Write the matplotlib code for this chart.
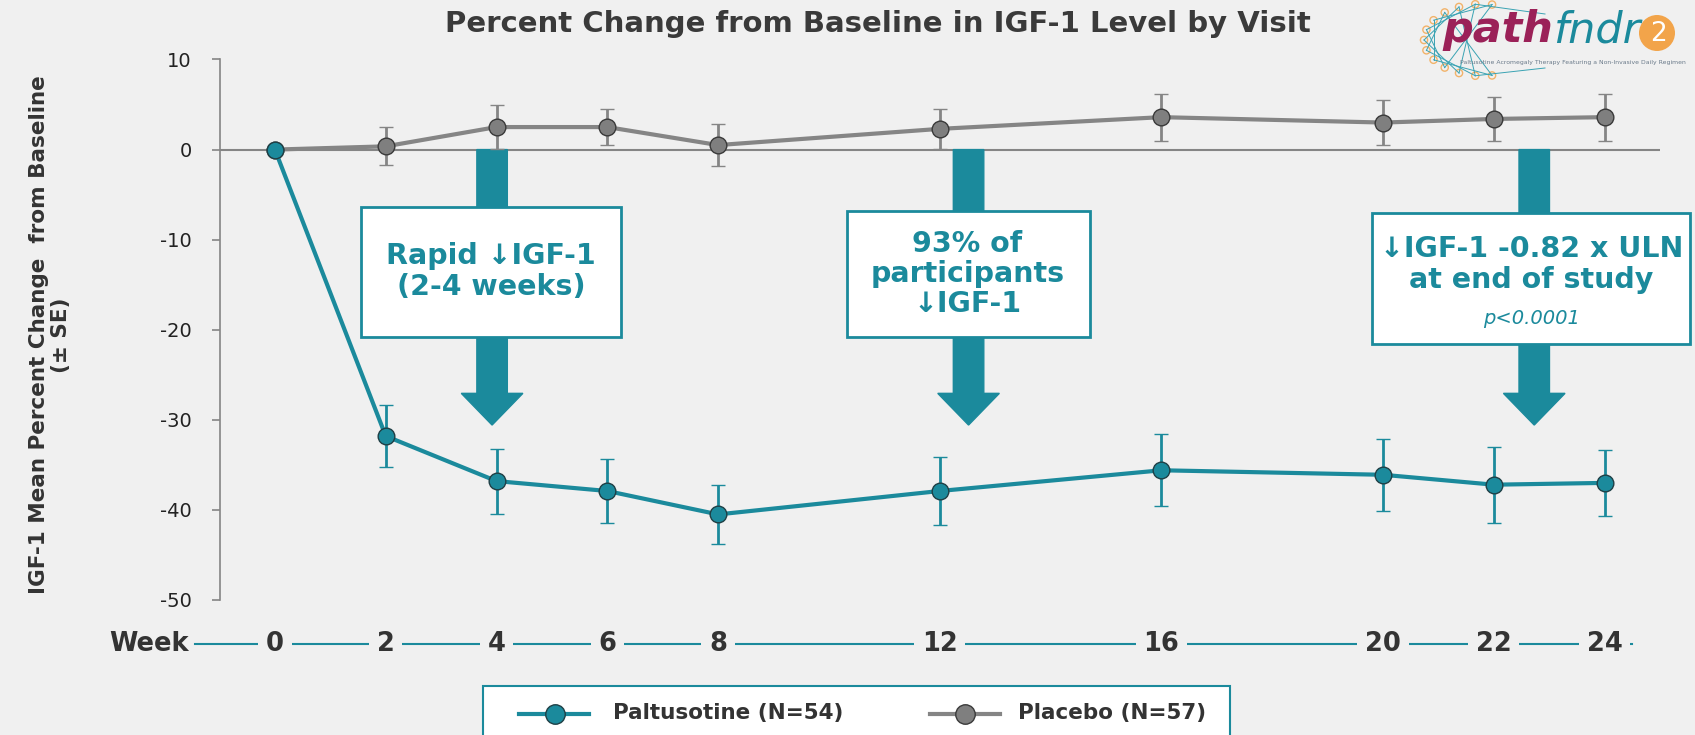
import numpy as np
import matplotlib
matplotlib.use("Agg")
import matplotlib.pyplot as plt
from matplotlib.patches import Rectangle, Polygon, Circle

# data
weeks = [0, 2, 4, 6, 8, 12, 16, 20, 22, 24]
week_labels = ["0", "2", "4", "6", "8", "12", "16", "20", "22", "24"]
palt_mean = [0, -31.8, -36.8, -37.9, -40.5, -37.9, -35.6, -36.1, -37.2, -37.0]
palt_se = [0, 3.4, 3.6, 3.5, 3.3, 3.8, 4.0, 4.0, 4.2, 3.7]
plac_mean = [0, 0.36, 2.5, 2.5, 0.5, 2.3, 3.6, 3.0, 3.4, 3.6]
plac_se = [0, 2.1, 2.4, 2.0, 2.3, 2.2, 2.6, 2.5, 2.4, 2.6]
yticks = [10, 0, -10, -20, -30, -40, -50]

TEAL = "#1b8a9c"
GRAY = "#858585"
BG = "#f0f0f0"
DARK = "#333333"

W, H = 1695, 735
fig = plt.figure(figsize=(W / 100, H / 100), dpi=100, facecolor=BG)

def fx(px):
    return px / W

def fy(py):
    return 1 - py / H

# main axes: left spine at 219.5px, y=10 at 59.5px, y=-50 at 600px
ax = fig.add_axes([fx(219.5), fy(600), fx(1660) - fx(219.5), fy(59.5) - fy(600)])
ax.set_facecolor(BG)
ax.set_xlim(-1, 25)
ax.set_ylim(-50, 10)
for s in ["top", "right", "bottom"]:
    ax.spines[s].set_visible(False)
ax.spines["left"].set_color(GRAY)
ax.spines["left"].set_linewidth(1.2)
ax.set_xticks([])
ax.set_yticks(yticks)
ax.set_yticklabels([str(t) for t in yticks], fontsize=14, color="#222222",
                   fontweight="medium")
ax.tick_params(axis="y", direction="out", length=6, color=GRAY, width=1.2, pad=14)

ax.axhline(0, color=GRAY, lw=1.5, zorder=1)

# callout arrows (behind the boxes)
arrow_x = [3.92, 12.52, 22.73]
for xc in arrow_x:
    sw, hw = 0.275, 0.556
    pts = [(xc - sw, 0), (xc + sw, 0), (xc + sw, -27.06), (xc + hw, -27.06),
           (xc, -30.58), (xc - hw, -27.06), (xc - sw, -27.06)]
    ax.add_patch(Polygon(pts, closed=True, color=TEAL, zorder=2, clip_on=False))

# callout boxes
boxes = [(1.554, -20.77, 6.25 - 1.554, 14.43),
         (10.32, -20.8, 14.71 - 10.32, 14.01),
         (19.81, -21.58, 25.54 - 19.81, 14.57)]
for bx, by, bw, bh in boxes:
    ax.add_patch(Rectangle((bx, by), bw, bh, facecolor="white", edgecolor=TEAL,
                           lw=2, zorder=3, clip_on=False))

fam = ["DejaVu Sans"]
ax.text(3.9, -13.53, "Rapid ↓IGF-1\n(2-4 weeks)", ha="center", va="center",
        color=TEAL, fontsize=20.5, fontweight="bold", family=fam, zorder=4,
        linespacing=1.12)
ax.text(12.5, -13.81, "93% of\nparticipants\n↓IGF-1", ha="center", va="center",
        color=TEAL, fontsize=20.5, fontweight="bold", family=fam, zorder=4,
        linespacing=1.1)
ax.text(22.68, -12.75, "↓IGF-1 -0.82 x ULN\nat end of study", ha="center", va="center",
        color=TEAL, fontsize=20.5, fontweight="bold", family=fam, zorder=4,
        linespacing=1.12, clip_on=False)
ax.text(22.68, -18.73, "p<0.0001", ha="center", va="center", color=TEAL,
        fontsize=14, fontstyle="italic", family=fam, zorder=4, clip_on=False)

# series
ax.errorbar(weeks, plac_mean, yerr=plac_se, color=GRAY, lw=3, elinewidth=2,
            capsize=5, capthick=2, marker="o", markersize=12,
            markerfacecolor="#7f7f7f", markeredgecolor="#3a3a3a",
            markeredgewidth=1, zorder=5, clip_on=False)
ax.errorbar(weeks, palt_mean, yerr=palt_se, color=TEAL, lw=3, elinewidth=2,
            capsize=5, capthick=2, marker="o", markersize=12,
            markerfacecolor=TEAL, markeredgecolor="#1f3f45",
            markeredgewidth=1, zorder=6, clip_on=False)

# week axis drawn below the plot
wy = -54.9
ax.plot([-1.44, 24.5], [wy, wy], color=TEAL, lw=1.5, clip_on=False, zorder=1)
for w, lab in zip(weeks, week_labels):
    ax.text(w, wy, lab, ha="center", va="center", fontsize=18.5, fontweight="bold",
            color=DARK, clip_on=False, zorder=2,
            bbox=dict(boxstyle="square,pad=0.3", fc=BG, ec="none"))
ax.text(-1.55, wy, "Week", ha="right", va="center", fontsize=18.5, fontweight="bold",
        color=DARK, clip_on=False,
        bbox=dict(boxstyle="square,pad=0.1", fc=BG, ec="none"))

# title and y label
fig.text(fx(878), fy(24), "Percent Change from Baseline in IGF-1 Level by Visit",
         ha="center", va="center", fontsize=21, fontweight="bold", color="#3a3a3a")
fig.text(fx(50), fy(335), "IGF-1 Mean Percent Change  from Baseline\n(± SE)",
         rotation=90, ha="center", va="center", fontsize=15.5, fontweight="bold",
         color=DARK, linespacing=1.15, multialignment="center")

# overlay in pixel coordinates for legend and logo
ov = fig.add_axes([0, 0, 1, 1])
ov.set_xlim(0, W)
ov.set_ylim(H, 0)
ov.axis("off")
ov.patch.set_alpha(0)

# legend box
ov.add_patch(Rectangle((483, 686), 1230 - 483, 60, facecolor="white",
                       edgecolor=TEAL, lw=1.5, clip_on=False))
ly = 713.5
ov.plot([519, 589], [ly, ly], color=TEAL, lw=3)
ov.plot([555], [ly], marker="o", markersize=14, color=TEAL, markeredgecolor="#1f3f45")
ov.text(613, ly, "Paltusotine (N=54)", ha="left", va="center", fontsize=15.5,
        fontweight="bold", color=DARK)
ov.plot([930, 1000], [ly, ly], color=GRAY, lw=3)
ov.plot([965], [ly], marker="o", markersize=14, color="#7f7f7f", markeredgecolor="#3a3a3a")
ov.text(1018, ly, "Placebo (N=57)", ha="left", va="center", fontsize=15.5,
        fontweight="bold", color=DARK)

# logo (simplified)
ang = np.linspace(np.radians(80), np.radians(280), 13)
cx, cy, rx, ry = 1482, 40, 58, 36
px = cx + rx * np.cos(ang)
py = cy - ry * np.sin(ang)
for i in range(len(ang)):
    j = (i + 4) % len(ang)
    ov.plot([px[i], px[j]], [py[i], py[j]], color="#3aa3b3", lw=0.7)
ov.plot([px[1], 1545], [py[1], 14], color="#3aa3b3", lw=0.7)
ov.plot([px[-2], 1545], [py[-2], 68], color="#3aa3b3", lw=0.7)
for a, b in zip(px, py):
    ov.add_patch(Circle((a, b), 3.6, facecolor=BG, edgecolor="#f2b36a", lw=1))
ov.add_patch(Circle((1657, 33), 18, facecolor="#f2a44a", edgecolor="none"))
ov.text(1553, 42, "path", ha="right", va="baseline", fontsize=31, fontweight="bold",
        fontstyle="italic", color="#9b2158")
ov.text(1553, 42, "fndr", ha="left", va="baseline", fontsize=31,
        fontstyle="italic", color=TEAL)
ov.text(1658, 34, "2", ha="center", va="center", fontsize=19, color="white")
ov.text(1460, 62, "Paltusotine Acromegaly Therapy Featuring a Non-Invasive Daily Regimen",
        ha="left", va="center", fontsize=4.4, color="#6a7a8a")

fig.savefig("out.png", dpi=100, facecolor=BG)
